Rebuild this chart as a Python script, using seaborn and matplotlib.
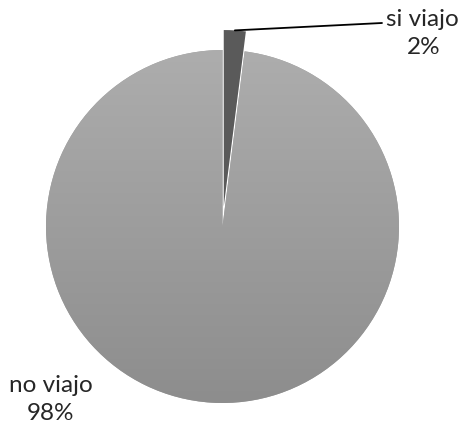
import numpy as np
import seaborn as sns
import matplotlib.pyplot as plt

# data
labels = ['si viajo', 'no viajo']
values = [2, 98]
colors = ['#5a5a5a', '#a0a0a0']

sns.set_theme(style='white')
plt.rcParams['font.family'] = ['Lato', 'DejaVu Sans']

fig = plt.figure(figsize=(4.63, 4.29), dpi=100)
ax = fig.add_axes([0, 0, 1, 1])

cx, cy, r = 222.5, 429 - 226.5, 176.5
# explode offset is in data units here
wedges, _ = ax.pie(values, colors=colors, startangle=90, counterclock=False,
                   explode=[20, 0], radius=r, center=(cx, cy), frame=True,
                   wedgeprops=dict(linewidth=0))
ax.set_xlim(0, 463)
ax.set_ylim(0, 429)
ax.set_aspect('equal')
ax.axis('off')

# vertical gradient on the big slice
big = wedges[1]
grad = np.linspace(0, 1, 256).reshape(-1, 1)
cmap = sns.blend_palette(['#8d8d8d', '#adadad'], as_cmap=True)
img = ax.imshow(grad, extent=(cx - r, cx + r, cy - r, cy + r), origin='lower',
                cmap=cmap, aspect='auto', zorder=big.get_zorder() + 0.1)
img.set_clip_path(big)
wedges[0].set_zorder(big.get_zorder() + 0.2)

# leader line for the small slice
w = wedges[0]
ang = np.deg2rad((w.theta1 + w.theta2) / 2)
tip = (w.center[0] + w.r * np.cos(ang), w.center[1] + w.r * np.sin(ang))
ax.plot([tip[0], 382], [tip[1], 429 - 23], color='black', lw=1.3, zorder=5)

pcts = [f'{v / sum(values) * 100:.0f}%' for v in values]
fs = 17.5
ax.text(422, 429 - 19, labels[0], ha='center', va='center', fontsize=fs)
ax.text(424, 429 - 48, pcts[0], ha='center', va='center', fontsize=fs)
ax.text(51, 429 - 386, labels[1], ha='center', va='center', fontsize=fs)
ax.text(51, 429 - 414, pcts[1], ha='center', va='center', fontsize=fs)

fig.savefig('out.png', dpi=100)
